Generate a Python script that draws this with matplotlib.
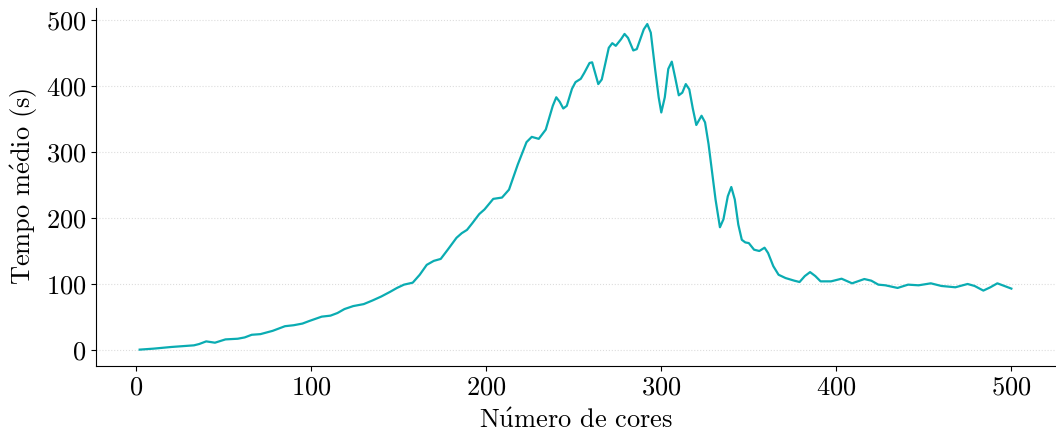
import matplotlib
matplotlib.use('Agg')
import matplotlib.pyplot as plt

# leitura aproximada da curva (numero de cores x tempo medio)
cores = [2, 10, 20, 33, 36, 40, 45, 51, 58, 62, 66, 71, 78, 85, 90, 95, 99,
         106, 111, 115, 119, 124, 130, 135, 140, 145, 149, 153, 158, 162, 166,
         170, 174, 178, 183, 186, 189, 192, 196, 199, 204, 209, 213, 218, 223,
         226, 230, 234, 238, 240, 242, 244, 246, 249, 251, 254, 256, 259, 260.5,
         264, 266, 270, 272, 274, 277, 279, 281, 284, 286, 290, 292, 294, 296.5,
         298.5, 300, 302, 304, 306, 308, 310, 312, 314, 316, 318, 320, 323, 325,
         327, 329, 331, 333.5, 335.5, 338, 340, 342, 344, 346, 348, 350, 353,
         356, 359, 361, 364, 367, 371, 376, 379, 382, 385, 388, 391, 397, 403,
         409, 416, 420, 424, 428, 435, 441, 447, 454, 460, 468, 475, 479, 484,
         488, 492, 496, 500]
tempo = [0.5, 2, 4.5, 7, 9, 13, 11, 16, 17, 19, 23, 24, 29, 36, 37.5, 40, 44,
         50.5, 52, 56, 62, 66.5, 69.5, 75, 81, 88, 94, 99, 102, 114, 129,
         135, 138, 152, 170, 177, 182, 192, 206, 213, 229, 231, 243, 281, 315,
         323, 320, 334, 370, 383, 376, 366, 370, 396, 406, 411, 420, 435, 436,
         403, 410, 458, 465, 461, 471, 479, 473, 454, 456, 486, 494, 481, 425,
         383, 360, 383, 426, 437, 412, 386, 390, 403, 395, 366, 341, 355, 345,
         312, 270, 228, 186, 198, 233, 247, 228, 190, 167, 163, 162, 152,
         150, 155, 147, 127, 114, 109, 105, 103, 112, 118, 112, 104, 104, 108,
         101, 107.5, 105, 99, 98, 94, 99, 98, 101, 97, 95, 100, 97, 90,
         95, 101, 97, 93]

plt.rcParams['font.family'] = ['cmr10', 'DejaVu Serif']
plt.rcParams['mathtext.fontset'] = 'cm'
plt.rcParams['axes.formatter.use_mathtext'] = True
plt.rcParams['font.size'] = 19

fig = plt.figure(figsize=(10.56, 4.32), dpi=100)
ax = fig.add_subplot(1, 1, 1)
fig.subplots_adjust(left=0.091, right=0.999, bottom=0.153, top=0.982)

ax.plot(cores, tempo, color='#0aacb2', linewidth=1.6)

ax.set_xticks([0, 100, 200, 300, 400, 500])
ax.set_yticks([0, 100, 200, 300, 400, 500])
ax.grid(axis='y', linestyle=':', color='#dddddd', linewidth=0.8)
ax.set_axisbelow(True)
ax.spines['top'].set_visible(False)
ax.spines['right'].set_visible(False)

# acentos via mathtext (cmr10 nao tem os glifos acentuados)
ax.set_xlabel(r'N$\mathrm{\acute{u}}$mero de cores', labelpad=7)
ax.set_ylabel(r'Tempo m$\mathrm{\acute{e}}$dio (s)')

fig.savefig('out.png', dpi=100)
